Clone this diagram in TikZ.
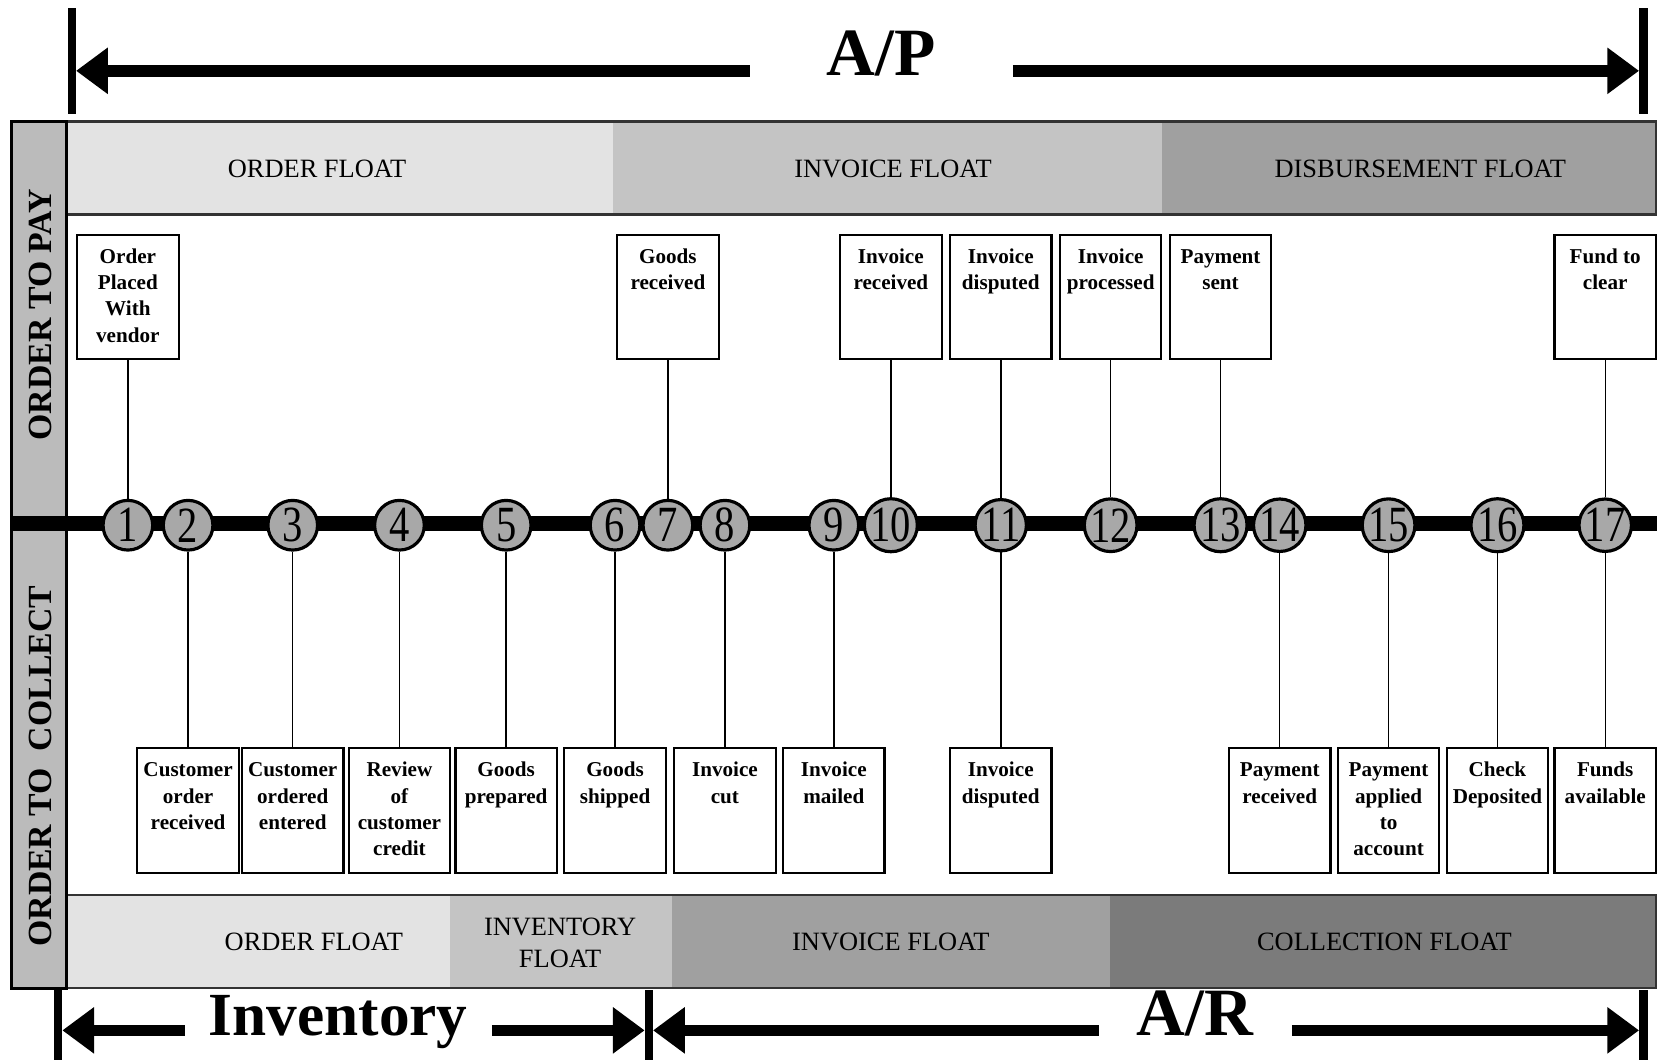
\documentclass[tikz,border=0pt]{standalone}
\usepackage{fontspec}
\setmainfont{Liberation Serif}
\newfontfamily\numfont[FakeStretch=0.8]{Liberation Serif}
\usetikzlibrary{arrows.meta}
\definecolor{bandA}{HTML}{E3E3E3}
\definecolor{bandB}{HTML}{C4C4C4}
\definecolor{bandC}{HTML}{A0A0A0}
\definecolor{bandD}{HTML}{7B7B7B}
\definecolor{sidebar}{HTML}{BBBBBB}
\definecolor{circfill}{HTML}{A8A8A8}
\definecolor{bandedge}{HTML}{333333}
\newcommand\evtext[1]{\parbox[c][59pt][t]{48pt}{\centering\rule{0pt}{13.5pt}#1}}
\begin{document}
\begin{tikzpicture}[x=0.5pt,y=-0.5pt,
  evbox/.style={draw=black, line width=1pt, fill=white, inner sep=0pt,
    font=\bfseries\fontsize{10}{12.5}\selectfont},
  circ/.style={circle, draw=black, line width=1.5pt, fill=circfill,
    minimum size=23.5pt, inner sep=0pt, font=\numfont\fontsize{24}{24}\selectfont},
  conn/.style={draw=black, line width=0.7pt},
  bandlab/.style={font=\fontsize{12.5}{15}\selectfont, align=center, inner sep=0pt},
  bandline/.style={draw=bandedge, line width=1pt},
  sidelab/.style={font=\bfseries\fontsize{16}{16}\selectfont, rotate=90, inner sep=0pt},
  bar/.style={line width=4pt},
  bigarrow/.style={line width=5.5pt, -{Triangle[length=15pt,width=21pt]}},
  biglab/.style={font=\bfseries\fontsize{32}{32}\selectfont, anchor=mid, inner sep=0pt},
]
\useasboundingbox (0,0) rectangle (1568,1003);

% ---- top band (order to pay)
\fill[bandA] (63,115) rectangle (580,203);
\fill[bandB] (580,115) rectangle (1100,203);
\fill[bandC] (1100,115) rectangle (1568,203);
\draw[bandline] (63,115) rectangle (1567,203);
\node[bandlab] (tOF) at (300,160) {ORDER FLOAT};
\node[bandlab] (tIF) at (845,160) {INVOICE FLOAT};
\node[bandlab] (tDF) at (1344,160) {DISBURSEMENT FLOAT};

% ---- bottom band (order to collect)
\fill[bandA] (63,847) rectangle (426,935);
\fill[bandB] (426,847) rectangle (636,935);
\fill[bandC] (636,847) rectangle (1050,935);
\fill[bandD] (1050,847) rectangle (1568,935);
\draw[bandline] (63,847) rectangle (1567,935);
\node[bandlab] (bOF) at (297,891) {ORDER FLOAT};
\node[bandlab] (bINV) at (530,892) {INVENTORY\\FLOAT};
\node[bandlab] (bIF) at (843,891) {INVOICE FLOAT};
\node[bandlab] (bCF) at (1310,891) {COLLECTION FLOAT};

% ---- side bar
\draw[line width=1.5pt, fill=sidebar] (11,115) rectangle (63,935);
\node[sidelab] (otp) at (38,298) {ORDER TO PAY};
\node[sidelab] (otc) at (38,725) {ORDER TO\ \ COLLECT};

% ---- A/P dimension
\coordinate (apL) at (72,67);
\coordinate (apR) at (1551,67);
\draw[bar] (68,8) -- (68,108);
\draw[bar] (1555,8) -- (1555,108);
\node[biglab, minimum width=124pt] (ap) at (834,67) {A/P};
\draw[bigarrow] (ap.mid west) -- (apL);
\draw[bigarrow] (ap.mid east) -- (apR);

% ---- Inventory / A/R dimension
\draw[bar] (55,937) -- (55,1003);
\draw[bar] (614,937) -- (614,1003);
\draw[bar] (1555,937) -- (1555,1003);
\coordinate (invL) at (59,975);
\coordinate (invR) at (610,975);
\coordinate (arL) at (618,975);
\coordinate (arR) at (1551,975);
\node[biglab, font=\bfseries\fontsize{29}{29}\selectfont, minimum width=145pt] (inv) at (320,975) {Inventory};
\node[biglab, minimum width=91pt] (ar) at (1131,975) {A/R};
\draw[bigarrow] (inv.mid west) -- (invL);
\draw[bigarrow] (inv.mid east) -- (invR);
\draw[bigarrow] (ar.mid west) -- (arL);
\draw[bigarrow] (ar.mid east) -- (arR);

% ---- upper event boxes
\node[evbox] (u1) at (121,281) {\evtext{Order\\Placed\\With\\vendor}};
\node[evbox] (u7) at (632,281) {\evtext{Goods\\received}};
\node[evbox] (u10) at (843,281) {\evtext{Invoice\\received}};
\node[evbox] (u11) at (947,281) {\evtext{Invoice\\disputed}};
\node[evbox] (u12) at (1051,281) {\evtext{Invoice\\processed}};
\node[evbox] (u13) at (1155,281) {\evtext{Payment\\sent}};
\node[evbox] (u17) at (1519,281) {\evtext{Fund to\\clear}};

% ---- lower event boxes
\node[evbox] (l2) at (178,767) {\evtext{Customer\\order\\received}};
\node[evbox] (l3) at (277,767) {\evtext{Customer\\ordered\\entered}};
\node[evbox] (l4) at (378,767) {\evtext{Review\\of\\customer\\credit}};
\node[evbox] (l5) at (479,767) {\evtext{Goods\\prepared}};
\node[evbox] (l6) at (582,767) {\evtext{Goods\\shipped}};
\node[evbox] (l8) at (686,767) {\evtext{Invoice\\cut}};
\node[evbox] (l9) at (789,767) {\evtext{Invoice\\mailed}};
\node[evbox] (l11) at (947,767) {\evtext{Invoice\\disputed}};
\node[evbox] (l14) at (1211,767) {\evtext{Payment\\received}};
\node[evbox] (l15) at (1314,767) {\evtext{Payment\\applied\\to\\account}};
\node[evbox] (l16) at (1417,767) {\evtext{Check\\Deposited}};
\node[evbox] (l17) at (1519,767) {\evtext{Funds\\available}};

% ---- timeline
\coordinate (tlL) at (10,495);
\coordinate (tlR) at (1568,495);
\draw[line width=7pt] (tlL) -- (tlR);

% ---- milestones
\node[circ] (c1) at (121,497) {1};
\node[circ] (c2) at (178,497) {2};
\node[circ] (c3) at (277,497) {3};
\node[circ] (c4) at (378,497) {4};
\node[circ] (c5) at (479,497) {5};
\node[circ] (c6) at (582,497) {6};
\node[circ] (c7) at (632,497) {7};
\node[circ] (c8) at (686,497) {8};
\node[circ] (c9) at (789,497) {9};
\node[circ] (c10) at (843,497) {10};
\node[circ] (c11) at (947,497) {11};
\node[circ] (c12) at (1051,497) {12};
\node[circ] (c13) at (1155,497) {13};
\node[circ] (c14) at (1211,497) {14};
\node[circ] (c15) at (1314,497) {15};
\node[circ] (c16) at (1417,497) {16};
\node[circ] (c17) at (1519,497) {17};

% ---- connectors
\foreach \n in {1,7,10,11,12,13,17} { \draw[conn] (u\n) -- (c\n); }
\foreach \n in {2,3,4,5,6,8,9,11,14,15,16,17} { \draw[conn] (c\n) -- (l\n); }
\end{tikzpicture}
\end{document}
